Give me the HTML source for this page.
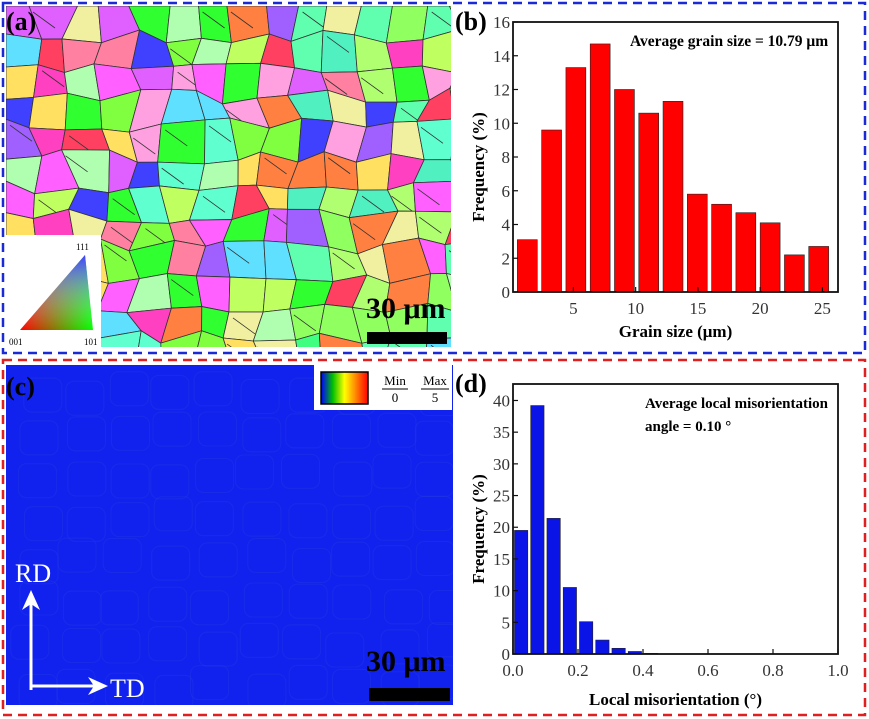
<!DOCTYPE html>
<html><head><meta charset="utf-8">
<style>
html,body{margin:0;padding:0;background:#fff;}
body{width:869px;height:719px;overflow:hidden;position:relative;font-family:"Liberation Serif",serif;}
svg{position:absolute;left:0;top:0;}
</style></head>
<body>
<svg id="fig" width="869" height="719" viewBox="0 0 869 719" xmlns="http://www.w3.org/2000/svg">
  <defs>
    <linearGradient id="kam" x1="0" x2="1" y1="0" y2="0">
      <stop offset="0" stop-color="#0000ff"/><stop offset="0.25" stop-color="#00c000"/>
      <stop offset="0.5" stop-color="#ffff00"/><stop offset="0.75" stop-color="#ff8000"/><stop offset="1" stop-color="#ff0000"/>
    </linearGradient>
    <linearGradient id="ipf1" x1="0" y1="1" x2="1" y2="1"><stop offset="0" stop-color="#ff0000"/><stop offset="1" stop-color="#00ff00"/></linearGradient>
    <linearGradient id="ipf2" x1="0" y1="1" x2="0" y2="0"><stop offset="0" stop-color="#fff" stop-opacity="0"/><stop offset="1" stop-color="#4040ff"/></linearGradient>
    <clipPath id="clipA"><rect x="6" y="6" width="445" height="341"/></clipPath>
    <clipPath id="clipC"><rect x="6" y="365" width="447" height="340"/></clipPath>
  </defs>
  <rect x="3" y="3" width="862" height="350" fill="none" stroke="#1a2ad6" stroke-width="2.5" stroke-dasharray="9,6"/>
  <rect x="3" y="360" width="862" height="355" fill="none" stroke="#e02020" stroke-width="2.5" stroke-dasharray="9,6"/>

  <g id="panelA" clip-path="url(#clipA)"></g>
  <g>
    <rect x="6" y="235" width="95" height="112" fill="#fff"/>
    <polygon points="20,330 93,330 85,255" fill="url(#ipf1)"/>
    <polygon points="20,330 93,330 85,255" fill="url(#ipf2)"/>
    <text x="76" y="250" font-size="9">111</text>
    <text x="9" y="345" font-size="9">001</text>
    <text x="84" y="345" font-size="9">101</text>
  </g>
  <text x="6" y="30" font-size="26" font-weight="bold">(a)</text>
  <g>
    <text x="366" y="318" font-size="30" font-weight="bold">30 μm</text>
    <rect x="367" y="332" width="80" height="12" fill="#000"/>
  </g>

  <!-- Panel c -->
  <rect x="6" y="365" width="447" height="340" fill="#1222ee"/>
  <g id="panelC" clip-path="url(#clipC)" stroke="#3a5ad0" stroke-opacity="0.18" fill="none" stroke-width="1"></g>
  <text x="6" y="395" font-size="26" font-weight="bold">(c)</text>
  <g>
    <rect x="314" y="365" width="138" height="45" fill="#fff"/>
    <rect x="321" y="372" width="47" height="32" fill="url(#kam)" stroke="#000" stroke-width="1.5"/>
    <text x="395" y="385" font-size="13" text-anchor="middle">Min</text>
    <line x1="382" y1="389" x2="408" y2="389" stroke="#000"/>
    <text x="395" y="402" font-size="13" text-anchor="middle">0</text>
    <text x="435" y="385" font-size="13" text-anchor="middle">Max</text>
    <line x1="421" y1="389" x2="449" y2="389" stroke="#000"/>
    <text x="435" y="402" font-size="13" text-anchor="middle">5</text>
  </g>
  <g fill="#fff" stroke="#fff">
    <text x="15" y="582" font-size="26" stroke="none">RD</text>
    <line x1="31" y1="690" x2="31" y2="600" stroke-width="3"/>
    <polygon points="31,590 22,610 31,604 40,610" stroke="none"/>
    <line x1="31" y1="686" x2="98" y2="686" stroke-width="3"/>
    <polygon points="108,686 88,677 94,686 88,695" stroke="none"/>
    <text x="110" y="697" font-size="26" stroke="none">TD</text>
  </g>
  <g>
    <text x="366" y="671" font-size="30" font-weight="bold">30 μm</text>
    <rect x="369" y="688" width="81" height="13" fill="#000"/>
  </g>

  <g id="chartB"></g>
  <g id="chartD"></g>
</svg>
<script>
// ---------- Chart b data ----------
const bCenters = [1.3, 3.25, 5.2, 7.15, 9.1, 11.05, 13.0, 14.95, 16.9, 18.85, 20.8, 22.75, 24.7];
const bValues = [3.1, 9.6, 13.3, 14.7, 12.0, 10.6, 11.3, 5.8, 5.2, 4.7, 4.1, 2.2, 2.7];
const bXTicks = [5, 10, 15, 20, 25];
const bYTicks = [0, 2, 4, 6, 8, 10, 12, 14, 16];
// ---------- Chart d data ----------
const dCenters = [0.025, 0.075, 0.125, 0.175, 0.225, 0.275, 0.325, 0.375, 0.425];
const dValues = [19.5, 39.2, 21.4, 10.5, 5.1, 2.2, 0.9, 0.4, 0.1];
const dXTicks = ["0.0", "0.2", "0.4", "0.6", "0.8", "1.0"];
const dYTicks = [0, 5, 10, 15, 20, 25, 30, 35, 40];

const NS = "http://www.w3.org/2000/svg";
function mk(tag, attrs, parent) {
  const e = document.createElementNS(NS, tag);
  for (const k in attrs) e.setAttribute(k, attrs[k]);
  parent.appendChild(e);
  return e;
}

function drawHist(g, o) {
  const sx = v => o.x0 + (v - o.xmin) / (o.xmax - o.xmin) * (o.x1 - o.x0);
  const sy = v => o.y0 - (v - o.ymin) / (o.ymax - o.ymin) * (o.y0 - o.y1);
  const bw = (sx(o.binW) - sx(0)) * o.fill;
  o.centers.forEach((c, i) => {
    const r = mk("rect", {x: sx(c) - bw / 2, y: sy(o.values[i]), width: bw, height: sy(0) - sy(o.values[i]), fill: o.color, stroke: "#222", "stroke-width": 0.6}, g);
    
    
  });
  const frame = mk("rect", {x: o.x0, y: o.y1, width: o.x1 - o.x0, height: o.y0 - o.y1, fill: "none", stroke: "#111", "stroke-width": 1.8}, g);
  
  
  o.xTicks.forEach(t => {
    const v = parseFloat(t), x = sx(v);
    mk("line", {x1: x, x2: x, y1: o.y0, y2: o.y0 - 5, stroke: "#111", "stroke-width": 1.2}, g);
    const tx = mk("text", {x: x, y: o.y0 + 22, "font-size": 17, "text-anchor": "middle", fill: "#333"}, g);
    tx.textContent = t;
    
    
  });
  o.yTicks.forEach(t => {
    const y = sy(t);
    mk("line", {x1: o.x0, x2: o.x0 + 5, y1: y, y2: y, stroke: "#111", "stroke-width": 1.2}, g);
    const ty = mk("text", {x: o.x0 - 3, y: y + 6, "font-size": 17, "text-anchor": "end", fill: "#333"}, g);
    ty.textContent = t;
    
    
  });
  const xl = mk("text", {x: (o.x0 + o.x1) / 2, y: o.xLabelY, "font-size": 17, "font-weight": "bold", "text-anchor": "middle"}, g);
  xl.textContent = o.xLabel;
  
  
  const cy = (o.y0 + o.y1) / 2 + 10;
  const yl = mk("text", {x: o.yLabelX, y: cy, "font-size": 17, "font-weight": "bold", "text-anchor": "middle", transform: `rotate(-90 ${o.yLabelX} ${cy})`}, g);
  yl.textContent = "Frequency (%)";
  
  
}

drawHist(document.getElementById("chartB"), {
  x0: 513, x1: 838, y0: 292, y1: 22, xmin: 0.15, xmax: 26.25, ymin: 0, ymax: 16,
  centers: bCenters, values: bValues, binW: 1.95, fill: 0.82, color: "#ff0000",
  xTicks: bXTicks.map(String), yTicks: bYTicks, xLabel: "Grain size (μm)", xLabelY: 337, yLabelX: 484
});
drawHist(document.getElementById("chartD"), {
  x0: 513, x1: 838, y0: 654, y1: 384, xmin: 0, xmax: 1, ymin: 0, ymax: 42.6,
  centers: dCenters, values: dValues, binW: 0.05, fill: 0.82, color: "#0a14e6",
  xTicks: dXTicks, yTicks: dYTicks, xLabel: "Local misorientation (°)", xLabelY: 705, yLabelX: 484
});

const ann = [
  ["chartB", 630, 46, "Average grain size = 10.79 μm", 15.5],
  ["chartD", 645, 408, "Average local misorientation", 15],
  ["chartD", 645, 431, "angle = 0.10 °", 15]
];
ann.forEach(a => {
  const t = mk("text", {x: a[1], y: a[2], "font-size": a[4], "font-weight": "bold"}, document.getElementById(a[0]));
  t.textContent = a[3];
  
  
});
const svg = document.getElementById("fig");
const lb = mk("text", {x: 455, y: 30, "font-size": 26, "font-weight": "bold"}, svg);
lb.textContent = "(b)";


const ld = mk("text", {x: 455, y: 392, "font-size": 26, "font-weight": "bold"}, svg);
ld.textContent = "(d)";



// ---------- decorative grain mosaic for panel a ----------
const palette = ["#ff40c0","#40ff80","#a060ff","#80ff40","#ff60ff","#60ffd0","#ff4060","#c0ff60","#ffa0e0","#60e0ff","#4040ff","#ffe060","#ff8040","#b0ffb0","#e060ff","#30ff30","#f0f0a0","#ff80a0"];
let seed = 7;
function rnd() { seed = (seed * 16807) % 2147483647; return seed / 2147483647; }
const A = document.getElementById("panelA");
const cw = 32, ch = 30;
const pts = [];
for (let j = 0; j <= 12; j++) { pts[j] = []; for (let i = 0; i <= 15; i++) pts[j][i] = [6 + i * cw + (i && i < 15 ? (rnd() - 0.5) * 18 : 0), 6 + j * ch + (j && j < 12 ? (rnd() - 0.5) * 16 : 0)]; }
for (let j = 0; j < 12; j++) for (let i = 0; i < 15; i++) {
  const p = [pts[j][i], pts[j][i+1], pts[j+1][i+1], pts[j+1][i]].map(q => q.join(",")).join(" ");
  let col = palette[Math.floor(rnd() * palette.length)];
  if (i > 8 && rnd() < 0.5) col = ["#60ffb0","#90ff60","#50f0c0","#b0ff70"][Math.floor(rnd()*4)];
  const poly = mk("polygon", {points: p, fill: col, stroke: "#333", "stroke-width": 0.8}, A);
  
  
  if (rnd() < 0.3) {
    const q = pts[j][i];
    mk("line", {x1: q[0] + 4, y1: q[1] + 6, x2: q[0] + 26, y2: q[1] + 22, stroke: "#333", "stroke-width": 0.8}, A);
  }
}
// faint grain boundaries in panel c
const C = document.getElementById("panelC");
for (let j = 0; j < 8; j++) for (let i = 0; i < 10; i++) {
  const x = 10 + i * 45 + rnd() * 15, y = 370 + j * 42 + rnd() * 12;
  mk("rect", {x: x, y: y, width: 38, height: 34, rx: 8}, C);
}
</script>
</body></html>
